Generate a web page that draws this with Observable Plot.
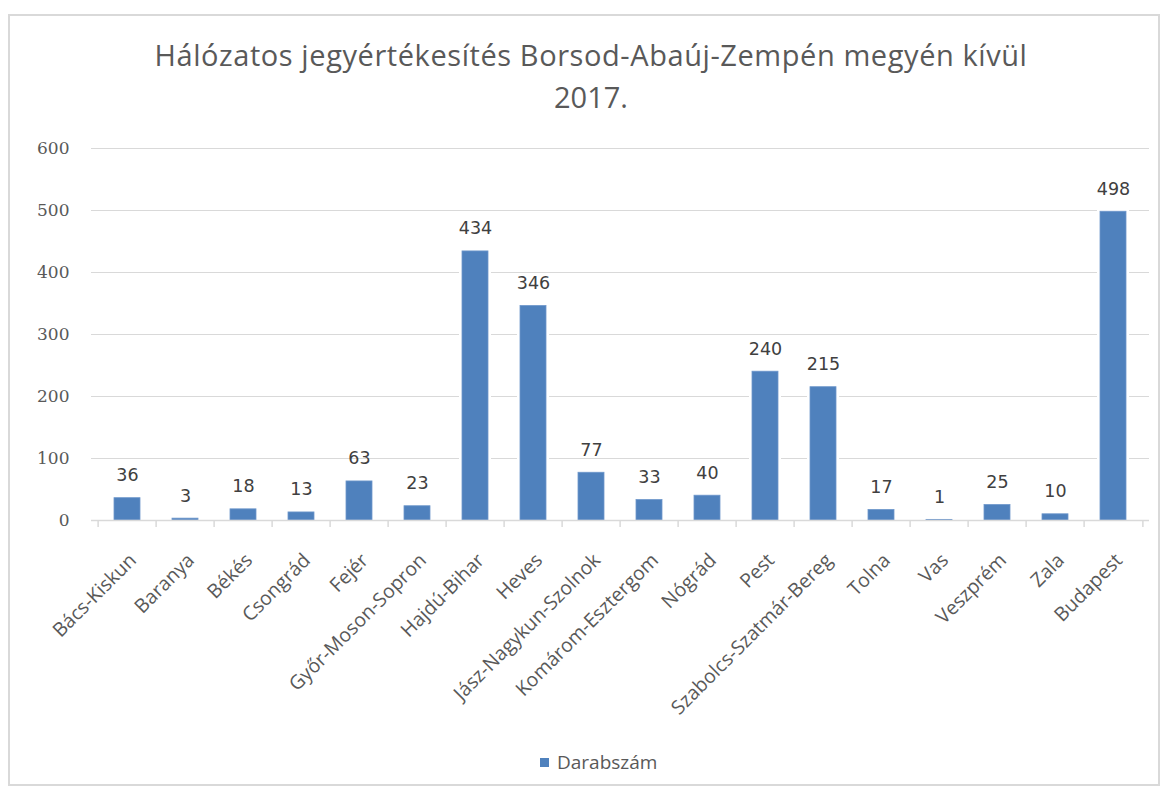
<!DOCTYPE html>
<html><head><meta charset="utf-8">
<script src="https://cdn.jsdelivr.net/npm/d3@7"></script>
<script src="https://cdn.jsdelivr.net/npm/@observablehq/plot@0.6"></script>
<style>
html,body{margin:0;padding:0;background:#fff;}
#root{position:relative;width:1164px;height:790px;overflow:hidden;background:#fff;}
#frame{position:absolute;left:8px;top:14px;width:1152px;height:772px;border:2px solid #d9d9d9;box-sizing:border-box;}
#title{position:absolute;left:0;top:34px;width:1182px;text-align:center;font-family:"Open Sans",sans-serif;font-size:29px;line-height:42px;color:#595959;}
#title span{white-space:nowrap;}
#chart{position:absolute;left:0;top:130px;}
#legend{position:absolute;left:540px;top:751px;height:22px;display:flex;align-items:center;font-family:"Open Sans",sans-serif;font-size:19px;color:#595959;}
#legend .sw{width:9px;height:9px;background:#4F81BD;margin-right:8px;}
</style>
</head><body>
<div id="root">
  <div id="frame"></div>
  <div id="title"><span id="t1"></span><br><span id="t2"></span></div>
  <div id="chart"></div>
  <div id="legend"><div class="sw"></div><div id="legendText"></div></div>
</div>
<script>
const titleLines = ["Hálózatos jegyértékesítés Borsod-Abaúj-Zempén megyén kívül", "2017."];
const seriesName = "Darabszám";
const categories = ["Bács-Kiskun","Baranya","Békés","Csongrád","Fejér","Győr-Moson-Sopron","Hajdú-Bihar","Heves","Jász-Nagykun-Szolnok","Komárom-Esztergom","Nógrád","Pest","Szabolcs-Szatmár-Bereg","Tolna","Vas","Veszprém","Zala","Budapest"];
const values = [36,3,18,13,63,23,434,346,77,33,40,240,215,17,1,25,10,498];
const yTicks = [0,100,200,300,400,500,600];

document.getElementById("t1").textContent = titleLines[0];
document.getElementById("t2").textContent = titleLines[1];
document.getElementById("legendText").textContent = seriesName;

// fit title width to reference
const t1 = document.getElementById("t1");
const w = t1.getBoundingClientRect().width;
const target = 873;
t1.style.letterSpacing = ((target - w) / titleLines[0].length).toFixed(3) + "px";

const data = categories.map((c, i) => ({category: c, value: values[i]}));

const width = 1164, height = 560;
const marginLeft = 91, marginRight = 15, marginTop = 18, marginBottom = 170;
const step = (width - marginLeft - marginRight) / categories.length;

const chart = Plot.plot({
  width, height, marginLeft, marginRight, marginTop, marginBottom,
  style: {fontFamily: "'Open Sans', sans-serif", background: "transparent", overflow: "visible"},
  x: {type: "band", domain: categories, paddingInner: 0.56, paddingOuter: 0.28, axis: null},
  y: {domain: [0, 600], axis: null},
  marks: [
    Plot.ruleY(yTicks, {y: d => d, stroke: "#d9d9d9", strokeWidth: 1.2}),
    Plot.axisY(yTicks, {tickSize: 0, tickPadding: 22, fontFamily: "'DejaVu Serif', serif", fontSize: 17, fill: "#595959", label: null}),
    Plot.barY(data, {x: "category", y: "value", fill: "white", stroke: "white", strokeWidth: 6}),
    Plot.barY(data, {x: "category", y: "value", fill: "#4F81BD", stroke: "#6E97CB", strokeWidth: 0.8}),
    Plot.ruleY([0], {stroke: "#d9d9d9", strokeWidth: 1.5}),
    Plot.axisX(categories, {tickSize: 7, text: null, dx: -step / 2, stroke: "#d9d9d9", strokeWidth: 1.5, label: null}),
    Plot.axisX(categories.slice(-1), {tickSize: 7, text: null, dx: step / 2, stroke: "#d9d9d9", strokeWidth: 1.5, label: null}),
    Plot.text(data, {x: "category", y: "value", text: d => String(d.value), lineAnchor: "bottom", dy: -17, fontFamily: "'DejaVu Sans', sans-serif", fontSize: 17.5, fill: "#404040"}),
    Plot.text(categories, {x: d => d, frameAnchor: "bottom", rotate: -45, textAnchor: "end", lineAnchor: "bottom", dx: 10, dy: 41, fontSize: 19.5, fill: "#595959"})
  ]
});
document.getElementById("chart").appendChild(chart);
</script>
</body></html>
